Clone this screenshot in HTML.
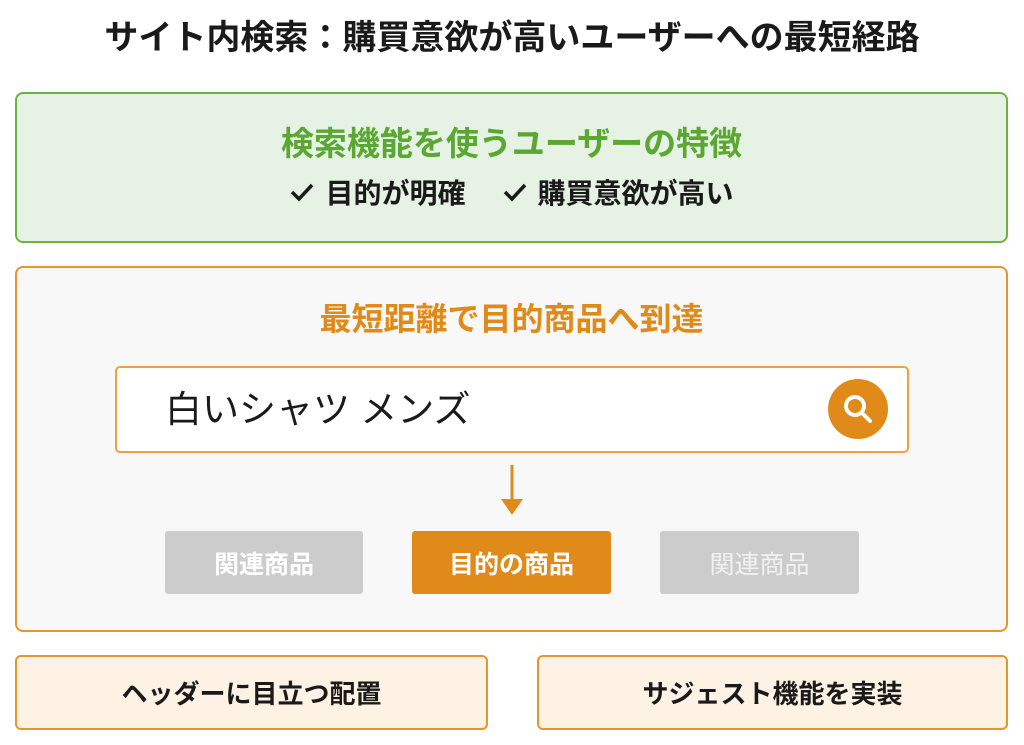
<!DOCTYPE html>
<html><head><meta charset="utf-8"><style>
body{margin:0;width:1024px;height:745px;background:#fff;font-family:"Liberation Sans","Noto Sans CJK JP",sans-serif;position:relative;overflow:hidden}
div{position:absolute;box-sizing:border-box}
.c{display:flex;align-items:center;justify-content:center;white-space:nowrap}
</style></head><body>
<div class="c" style="left:0;top:10px;width:1024px;height:48px;font-size:34px;font-weight:bold;color:#1a1a1a">サイト内検索：購買意欲が高いユーザーへの最短経路</div>
<div style="left:15px;top:92px;width:993px;height:151px;background:#e6f2e4;border:2px solid #6ab53f;border-radius:8px"></div>
<div class="c" style="left:15px;top:118px;width:993px;height:46px;font-size:33px;font-weight:bold;color:#5aa832">検索機能を使うユーザーの特徴</div>
<div class="c" style="left:15px;top:173px;width:993px;height:38px;font-size:28px;font-weight:bold;color:#1a1a1a">
<svg width="26" height="26" style="margin-right:10px"><polyline points="3,13 10,20 23,6" fill="none" stroke="#1a1a1a" stroke-width="3.5"/></svg>目的が明確<span style="display:inline-block;width:36px"></span><svg width="26" height="26" style="margin-right:10px"><polyline points="3,13 10,20 23,6" fill="none" stroke="#1a1a1a" stroke-width="3.5"/></svg>購買意欲が高い</div>
<div style="left:15px;top:266px;width:993px;height:366px;background:#f8f8f8;border:2px solid #e5962e;border-radius:8px"></div>
<div class="c" style="left:15px;top:294px;width:993px;height:46px;font-size:32px;font-weight:bold;color:#e08a1a">最短距離で目的商品へ到達</div>
<div style="left:115px;top:366px;width:794px;height:87px;background:#fff;border:2px solid #f0a040;border-radius:5px"></div>
<div style="left:165px;top:386px;height:48px;font-size:37px;line-height:48px;color:#1a1a1a">白いシャツ メンズ</div>
<div style="left:828px;top:379px;width:60px;height:60px;border-radius:50%;background:#e08a1a">
<svg width="60" height="60"><circle cx="27" cy="27" r="9" fill="none" stroke="#fff" stroke-width="4"/><line x1="34" y1="34" x2="42" y2="42" stroke="#fff" stroke-width="4" stroke-linecap="round"/></svg></div>
<svg style="position:absolute;left:498px;top:463px" width="28" height="54"><line x1="14" y1="2" x2="14" y2="38" stroke="#e08a1a" stroke-width="3"/><polygon points="3,36 25,36 14,52" fill="#e08a1a"/></svg>
<div class="c" style="left:165px;top:531px;width:198px;height:63px;background:#cccccc;border-radius:3px;color:#fff;font-size:25px;font-weight:bold">関連商品</div>
<div class="c" style="left:412px;top:531px;width:199px;height:63px;background:#e08a1a;border-radius:3px;color:#fff;font-size:25px;font-weight:bold">目的の商品</div>
<div class="c" style="left:660px;top:531px;width:199px;height:63px;background:#cccccc;border-radius:3px;color:#f2f2f2;font-size:25px">関連商品</div>
<div class="c" style="left:15px;top:655px;width:473px;height:75px;background:#fdf2e3;border:2px solid #e5962e;border-radius:6px;font-size:26px;font-weight:bold;color:#1a1a1a">ヘッダーに目立つ配置</div>
<div class="c" style="left:537px;top:655px;width:471px;height:75px;background:#fdf2e3;border:2px solid #e5962e;border-radius:6px;font-size:26px;font-weight:bold;color:#1a1a1a">サジェスト機能を実装</div>
</body></html>
